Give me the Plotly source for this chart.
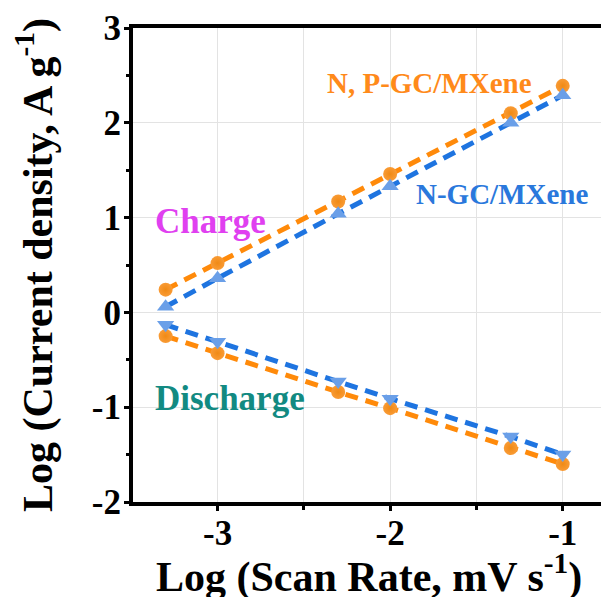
import plotly.graph_objects as go

# Data
log_scan_rate = [-3.301, -3.0, -2.301, -2.0, -1.301, -1.0]
np_charge = [0.24, 0.52, 1.17, 1.46, 2.10, 2.39]
n_charge = [0.06, 0.36, 1.04, 1.33, 2.00, 2.29]
n_discharge = [-0.13, -0.31, -0.73, -0.91, -1.31, -1.50]
np_discharge = [-0.25, -0.43, -0.84, -1.01, -1.43, -1.60]
x_tick_vals = [-3, -2, -1]
x_tick_text = ["-3", "-2", "-1"]
y_tick_vals = [-2, -1, 0, 1, 2, 3]
y_tick_text = ["-2", "-1", "0", "1", "2", "3"]

ORANGE_LINE = "#FF8A0A"
BLUE_LINE = "#1E74E0"
ORANGE_MK = "#F99B35"
BLUE_MK = "#6A9FE8"
FONT = "Liberation Serif, Times New Roman, serif"

fig = go.Figure()

def add_series(y, line_color, mk_color, symbol, size, grad=None):
    marker = dict(color=mk_color, size=size, symbol=symbol, line=dict(width=0))
    if grad:
        marker["gradient"] = dict(type="radial", color=grad)
    fig.add_trace(go.Scatter(
        x=log_scan_rate, y=y, mode="lines",
        line=dict(color=line_color, width=5, dash="13px,8px"),
        showlegend=False, hoverinfo="skip"))
    fig.add_trace(go.Scatter(
        x=log_scan_rate, y=y, mode="markers",
        marker=marker, showlegend=False))

add_series(np_discharge, ORANGE_LINE, ORANGE_MK, "circle", 14, "#F08A15")
add_series(n_discharge, BLUE_LINE, BLUE_MK, "triangle-down", 15)
add_series(np_charge, ORANGE_LINE, ORANGE_MK, "circle", 14, "#F08A15")
add_series(n_charge, BLUE_LINE, BLUE_MK, "triangle-up", 15)

annotations = [
    dict(x=-1.77, y=2.42, text="N, P-GC/MXene", color="#FF8A1A", size=29),
    dict(x=-1.35, y=1.245, text="N-GC/MXene", color="#2A78DC", size=29),
    dict(x=-3.04, y=0.96, text="Charge", color="#E040F0", size=35),
    dict(x=-2.93, y=-0.91, text="Discharge", color="#128A82", size=35),
]
for a in annotations:
    fig.add_annotation(x=a["x"], y=a["y"], text=a["text"], showarrow=False,
                       xanchor="center", yanchor="middle",
                       font=dict(family=FONT, size=a["size"], color=a["color"], weight="bold"))

# x-axis title placed as paper annotation for precise vertical position
fig.add_annotation(xref="paper", yref="paper", x=0.5, y=0, yshift=-72,
                   xanchor="center", yanchor="middle", showarrow=False,
                   text="Log (Scan Rate, mV s<sup>-1</sup>)",
                   font=dict(family=FONT, size=42, color="black", weight="bold"))

axis_common = dict(
    showline=True, linecolor="black", linewidth=4, mirror=True,
    ticks="outside", ticklen=5, tickwidth=3, tickcolor="black",
    gridcolor="#E3E3E3", gridwidth=1, zeroline=False, automargin=False,
    tickfont=dict(family=FONT, size=35, color="black", weight="bold"),
)

fig.update_xaxes(
    range=[-3.49, -0.755], tickmode="array", tickvals=x_tick_vals, ticktext=x_tick_text,
    ticklabelstandoff=-8,
    minor=dict(tick0=-3, dtick=0.5, ticks="outside", ticklen=4, tickwidth=3,
               tickcolor="black", showgrid=True, gridcolor="#E3E3E3", gridwidth=1),
    **axis_common)

fig.update_yaxes(
    range=[-2, 3], tickmode="array", tickvals=y_tick_vals, ticktext=y_tick_text,
    ticklabelstandoff=-4,
    title=dict(text="Log (Current density, A g<sup>-1</sup>)", standoff=30,
               font=dict(family=FONT, size=42, color="black", weight="bold")),
    minor=dict(tick0=-2, dtick=0.5, ticks="outside", ticklen=3, tickwidth=3,
               tickcolor="black", showgrid=False),
    **axis_common)

fig.update_layout(
    width=609, height=597,
    margin=dict(l=125, r=12, t=20, b=103),
    plot_bgcolor="white", paper_bgcolor="white",
)

fig.write_html("out.html")
